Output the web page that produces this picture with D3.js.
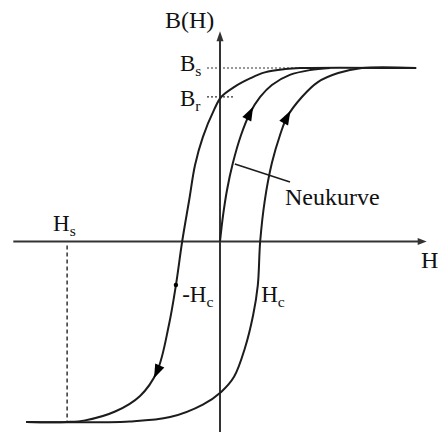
<!DOCTYPE html>
<html>
<head>
<meta charset="utf-8">
<script src="https://cdn.jsdelivr.net/npm/d3@7"></script>
<style>
  html, body { margin: 0; padding: 0; background: #fff; }
  svg { display: block; }
</style>
</head>
<body>
<svg id="chart" width="438" height="432"></svg>
<script>
// ---- data (H in units of Hc, B in units of Bs) ----
const upperBranch = [
  [5.03, 1], [2.05, 1], [1.67, 0.994], [1.15, 0.975], [0.77, 0.94], [0.38, 0.893],
  [0.03, 0.833], [-0.15, 0.76], [-0.44, 0.602], [-0.64, 0.441], [-0.79, 0.239],
  [-0.97, 0], [-1.13, -0.251], [-1.31, -0.481], [-1.62, -0.752], [-2.05, -0.89],
  [-2.69, -0.98], [-3.46, -1.031], [-3.92, -1.04], [-4.97, -1.04]
];
const lowerBranch = [
  [-4.97, -1.04], [-2.31, -1.037], [-1.28, -1.012], [-0.44, -0.94], [0.03, -0.867],
  [0.36, -0.78], [0.64, -0.614], [0.85, -0.424], [0.97, -0.251], [1.03, 0],
  [1.15, 0.239], [1.33, 0.452], [1.54, 0.614], [1.72, 0.718], [2.10, 0.833],
  [2.51, 0.919], [3.03, 0.971], [3.64, 1], [5.03, 1]
];
const neukurve = [
  [0, 0], [0.08, 0.153], [0.18, 0.297], [0.33, 0.452], [0.54, 0.614], [0.77, 0.741],
  [1.03, 0.833], [1.33, 0.902], [1.79, 0.960], [2.31, 0.988], [2.82, 1]
];
const levelsB = [1, 0.833];          // Bs, Br
const levelLabelsB = ["s", "r"];
const satH = [-3.92];                 // Hs
const coerciveH = [-0.97, 1.03];      // -Hc, Hc
const coerciveLabels = ["-H", "H"];
const arrowAt = [["neu", 0.77, 0.741], ["lower", 1.72, 0.718], ["upper", -1.62, -0.752]];
const dotPoint = [-1.13, -0.251];
const axisH = [-5.3, 5.3];
const axisB = [-1.1, 1.2];

// ---- scales ----
const x = d3.scaleLinear().domain([0, 1]).range([220, 259]);
const y = d3.scaleLinear().domain([0, 1]).range([241.5, 68]);

const svg = d3.select("#chart");
const ink = "#1c1c1c";
const serif = "'Liberation Serif', 'Times New Roman', Times, 'DejaVu Serif', serif";

// dotted reference lines
svg.append("line").attr("x1", 207).attr("x2", x(2.0)).attr("y1", y(levelsB[0])).attr("y2", y(levelsB[0]))
  .attr("stroke", "#333").attr("stroke-width", 1.2).attr("stroke-dasharray", "2,2");
svg.append("line").attr("x1", 207).attr("x2", x(0.38)).attr("y1", y(levelsB[1])).attr("y2", y(levelsB[1]))
  .attr("stroke", "#333").attr("stroke-width", 1.2).attr("stroke-dasharray", "2,2");
svg.append("line").attr("x1", x(satH[0])).attr("x2", x(satH[0])).attr("y1", y(0) + 4).attr("y2", y(-1.04))
  .attr("stroke", "#333").attr("stroke-width", 1.5).attr("stroke-dasharray", "4,3");

// axes
svg.append("line").attr("x1", x(axisH[0])).attr("x2", x(axisH[1]) - 6).attr("y1", y(0)).attr("y2", y(0))
  .attr("stroke", "#333").attr("stroke-width", 2);
svg.append("path")
  .attr("d", `M${x(axisH[1])},${y(0)} L${x(axisH[1]) - 9},${y(0) - 3.5} L${x(axisH[1]) - 9},${y(0) + 3.5} Z`)
  .attr("fill", "#333");
svg.append("line").attr("x1", x(0)).attr("x2", x(0)).attr("y1", y(axisB[0])).attr("y2", y(axisB[1]) + 6)
  .attr("stroke", "#333").attr("stroke-width", 2);
svg.append("path")
  .attr("d", `M${x(0)},${y(axisB[1]) - 2} L${x(0) - 3.5},${y(axisB[1]) + 8} L${x(0) + 3.5},${y(axisB[1]) + 8} Z`)
  .attr("fill", "#333");

// curves
const line = d3.line().x(d => x(d[0])).y(d => y(d[1])).curve(d3.curveCatmullRom.alpha(0.5));
const paths = {};
[["upper", upperBranch], ["lower", lowerBranch], ["neu", neukurve]].forEach(([k, data]) => {
  paths[k] = svg.append("path").datum(data).attr("d", line)
    .attr("fill", "none").attr("stroke", ink).attr("stroke-width", 2);
});

// arrowheads along curves
arrowAt.forEach(([k, h, b]) => {
  const node = paths[k].node();
  const L = node.getTotalLength();
  const tx = x(h), ty = y(b);
  let best = 0, bd = Infinity;
  for (let l = 0; l <= L; l += 0.5) {
    const p = node.getPointAtLength(l);
    const d = (p.x - tx) ** 2 + (p.y - ty) ** 2;
    if (d < bd) { bd = d; best = l; }
  }
  const p0 = node.getPointAtLength(Math.max(0, best - 3));
  const p1 = node.getPointAtLength(Math.min(L, best + 3));
  const c = node.getPointAtLength(best);
  let dx = p1.x - p0.x, dy = p1.y - p0.y;
  const n = Math.hypot(dx, dy); dx /= n; dy /= n;
  const px = -dy, py = dx;
  const len = 7, w = 5;
  const tip = [c.x + dx * len, c.y + dy * len];
  const b1 = [c.x - dx * len + px * w, c.y - dy * len + py * w];
  const b2 = [c.x - dx * len - px * w, c.y - dy * len - py * w];
  svg.append("path").attr("d", `M${tip} L${b1} L${b2} Z`).attr("fill", "#000");
});

// small dot
svg.append("circle").attr("cx", x(dotPoint[0])).attr("cy", y(dotPoint[1])).attr("r", 2.2).attr("fill", "#000");

// leader line for Neukurve
svg.append("line").attr("x1", x(0.38)).attr("y1", y(0.447)).attr("x2", 290).attr("y2", 182)
  .attr("stroke", ink).attr("stroke-width", 1.6);

// labels
function txt(tx, ty, s, size) {
  return svg.append("text").attr("x", tx).attr("y", ty).attr("font-size", size)
    .attr("font-family", serif).attr("fill", "#111").text(s);
}
function subLabel(tx, ty, main, sub, size) {
  const t = svg.append("text").attr("x", tx).attr("y", ty).attr("font-size", size)
    .attr("font-family", serif).attr("fill", "#111");
  t.append("tspan").text(main);
  t.append("tspan").attr("font-size", size * 0.68).attr("dy", 5).text(sub);
  return t;
}
txt(165, 28, "B(H)", 24);
txt(421, 268, "H", 24);
subLabel(180, y(levelsB[0]) + 3, "B", levelLabelsB[0], 23);
subLabel(180, y(levelsB[1]) + 9, "B", levelLabelsB[1], 23);
subLabel(x(satH[0]) - 14, y(0) - 11, "H", "s", 23);
subLabel(x(coerciveH[0]) + 0, 302, coerciveLabels[0], "c", 23);
subLabel(x(coerciveH[1]) + 1, 302, coerciveLabels[1], "c", 23);
txt(285, 205, "Neukurve", 24);
</script>
</body>
</html>
